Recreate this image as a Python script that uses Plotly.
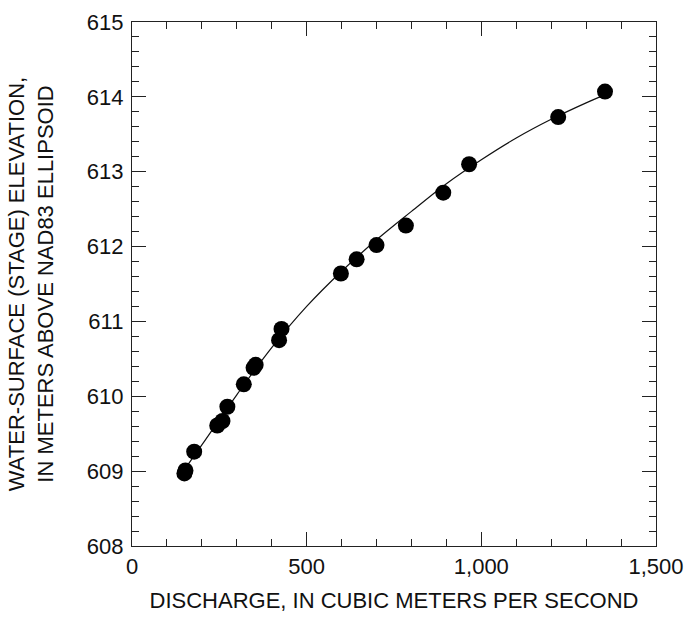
import plotly.graph_objects as go

# Measured stage-discharge pairs
discharge = [150, 153, 178, 244, 259, 273, 320, 348, 354, 421, 428, 598, 643, 700, 784, 891, 965, 1220, 1354]
stage = [608.97, 609.01, 609.26, 609.61, 609.67, 609.86, 610.16, 610.38, 610.42, 610.75, 610.90,
         611.64, 611.83, 612.02, 612.28, 612.72, 613.10, 613.73, 614.07]

# Fitted rating curve
curve_q = [147, 200, 300, 400, 500, 600, 700, 800, 900, 1000, 1100, 1200, 1300, 1355]
curve_h = [609.00, 609.35, 610.02, 610.65, 611.20, 611.67, 612.09, 612.47, 612.84, 613.16,
           613.45, 613.70, 613.92, 614.03]

x_ticks = [0, 500, 1000, 1500]
x_ticktext = ["0", "500", "1,000", "1,500"]

FONT = "Liberation Sans, Arial, sans-serif"
TICK_SIZE = 22
TITLE_SIZE = 22

fig = go.Figure()
fig.add_trace(go.Scatter(x=curve_q, y=curve_h, mode="lines",
                         line=dict(color="#111111", width=1.2, shape="spline"),
                         hoverinfo="skip", showlegend=False))
fig.add_trace(go.Scatter(x=discharge, y=stage, mode="markers",
                         marker=dict(color="#000000", size=16, line=dict(width=0)), showlegend=False))

axis_common = dict(
    showline=True, linecolor="#222222", linewidth=1.3, mirror="allticks",
    ticks="inside", ticklen=14, tickwidth=1.3, tickcolor="#222222",
    showgrid=False, zeroline=False, ticklabeloverflow="allow",
    tickfont=dict(family=FONT, size=TICK_SIZE, color="#111111"),
)

fig.update_xaxes(range=[0, 1500], tickvals=x_ticks, ticktext=x_ticktext,
                 minor=dict(ticks="inside", ticklen=7, tickwidth=1.3, tickcolor="#222222", dtick=100, tick0=0),
                 title=dict(text="DISCHARGE, IN CUBIC METERS PER SECOND",
                            font=dict(family=FONT, size=TITLE_SIZE, color="#111111"), standoff=15),
                 **axis_common)
fig.update_yaxes(range=[608, 615], dtick=1, tick0=608, ticklabelstandoff=3,
                 minor=dict(ticks="inside", ticklen=7, tickwidth=1.3, tickcolor="#222222", dtick=0.2, tick0=608),
                 title=dict(text="WATER-SURFACE (STAGE) ELEVATION,<br>IN METERS ABOVE NAD83 ELLIPSOID",
                            font=dict(family=FONT, size=TITLE_SIZE, color="#111111"), standoff=27),
                 **axis_common)

fig.update_layout(
    width=686, height=617,
    margin=dict(l=132, r=30, t=22, b=71, autoexpand=False),
    paper_bgcolor="white", plot_bgcolor="white",
)

fig.write_html("out.html", config={"displayModeBar": False},
               post_script="document.body.style.margin='0';document.body.style.overflow='hidden';")
